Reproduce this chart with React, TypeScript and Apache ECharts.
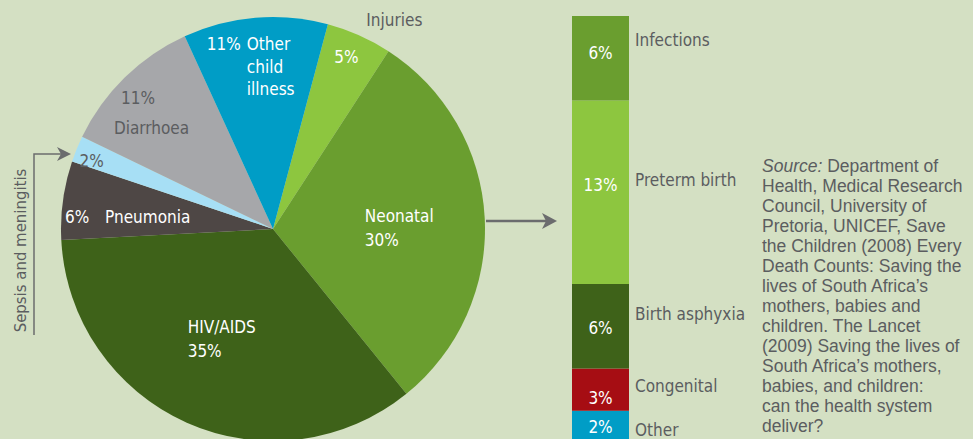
import React, { useEffect, useRef } from "react";
import * as echarts from "echarts";

// ---- data ----
const pieNames = [
  "Injuries",
  "Neonatal",
  "HIV/AIDS",
  "Pneumonia",
  "Sepsis and meningitis",
  "Diarrhoea",
  "Other child illness",
];
const pieValues = [5, 30, 35, 6, 2, 11, 11];

// stacked from bottom to top
const barNames = ["Other", "Congenital", "Birth asphyxia", "Preterm birth", "Infections"];
const barValues = [2, 3, 6, 13, 6];

const sourceLines = [
  "{i|Source:} Department of",
  "Health, Medical Research",
  "Council, University of",
  "Pretoria, UNICEF, Save",
  "the Children (2008) Every",
  "Death Counts: Saving the",
  "lives of South Africa\u2019s",
  "mothers, babies and",
  "children. The Lancet",
  "(2009) Saving the lives of",
  "South Africa\u2019s mothers,",
  "babies, and children:",
  "can the health system",
  "deliver?",
];

// ---- styles ----
const BG = "#d4e0c3";
const GRAY = "#5b5d60";
const ARROW = "#6b6c6e";
const F = "'Liberation Sans Narrow', 'DejaVu Sans Condensed', 'Roboto Condensed', sans-serif";
const FS = 17;
const pieColors = ["#8dc63f", "#6a9e2f", "#3e6219", "#4e4745", "#a7dff5", "#a6a7aa", "#009dc6"];
const barColors = ["#009dc6", "#a60d13", "#3e6219", "#8dc63f", "#6a9e2f"];
const pieLabelShift = [
  [29, -91],
  [19, 5],
  [-5, 10],
  [-37, 2.5],
  [-80.4, -27],
  [-42.8, -38.3],
  [-9.1, -53.4],
];
const pctShift = [2, 8.5, 2, -7, -5];
const nameShift = [5, -4, -12, -12, -18];

function pieFormatter(p: any): string {
  const v = `${p.value}%`;
  const n: string = p.name;
  switch (p.dataIndex) {
    case 0:
      return `{isp| }{gn|${n}}\n{wp|${v}}`;
    case 1:
    case 2:
      return `{wl|${n}}\n{wl|${v}}`;
    case 3:
      return `{w40|${v}}{wn86|${n}}`;
    case 4:
      return `{g|${v}}`;
    case 5:
      return `{dsp| }{dp|${v}}\n{dl|${n}}`;
    case 6: {
      const parts = n.split(" ");
      return `{w40|${v}}{on|${parts[0]}}\n{osp| }{on|${parts[1]}}\n{osp| }{on|${parts[2]}}`;
    }
  }
  return "";
}

export default function App() {
  const ref = useRef<HTMLDivElement>(null);
  useEffect(() => {
    if (!ref.current) return;
    const chart = echarts.init(ref.current, undefined, { renderer: "svg" });
    const base = { fontFamily: F, fontSize: FS };
    const option: any = {
      animation: false,
      backgroundColor: BG,
      grid: { left: 572, top: 16, width: 57, height: 426 },
      xAxis: { type: "category", data: [""], show: false },
      yAxis: { type: "value", min: 0, max: 30, show: false },
      series: [
        {
          type: "pie",
          center: [273, 229],
          radius: 212,
          startAngle: 75,
          clockwise: true,
          silent: true,
          labelLine: { show: false },
          data: pieNames.map((name, i) => ({
            name,
            value: pieValues[i],
            itemStyle: { color: pieColors[i] },
          })),
          label: {
            show: true,
            position: "inside",
            formatter: pieFormatter,
            ...base,
            color: "#fff",
            rich: {
              isp: { ...base, width: 96, lineHeight: 37 },
              gn: { ...base, color: GRAY, lineHeight: 37 },
              wp: { ...base, color: "#fff", lineHeight: 37 },
              wl: { ...base, color: "#fff", width: 72, align: "left", lineHeight: 24 },
              w40: { ...base, color: "#fff", width: 40, align: "left", lineHeight: 22.5 },
              wn86: { ...base, color: "#fff", width: 86, align: "left", lineHeight: 22.5 },
              g: { ...base, color: GRAY },
              dsp: { ...base, width: 7, align: "left", lineHeight: 30 },
              dp: { ...base, color: GRAY, width: 73, align: "left", lineHeight: 30 },
              dl: { ...base, color: GRAY, width: 80, align: "left", lineHeight: 30 },
              osp: { ...base, width: 40, align: "left", lineHeight: 22.5 },
              on: { ...base, color: "#fff", width: 56, align: "left", lineHeight: 22.5 },
            },
          },
          labelLayout: (p: any) => ({
            dx: pieLabelShift[p.dataIndex][0],
            dy: pieLabelShift[p.dataIndex][1],
          }),
        },
        ...barNames.map((name, i) => ({
          type: "bar",
          name,
          stack: "pct",
          barWidth: 57,
          barGap: "-100%",
          silent: true,
          data: [barValues[i]],
          itemStyle: { color: barColors[i] },
          label: {
            show: true,
            position: "inside",
            formatter: (p: any) => `${p.value}%`,
            color: "#fff",
            ...base,
            offset: [0, pctShift[i]],
          },
        })),
        ...barNames.map((name, i) => ({
          type: "bar",
          name,
          stack: "names",
          barWidth: 57,
          barGap: "-100%",
          silent: true,
          data: [barValues[i]],
          itemStyle: { color: "rgba(0,0,0,0)" },
          label: {
            show: true,
            position: "right",
            distance: 6,
            formatter: (p: any) => p.seriesName,
            color: GRAY,
            ...base,
            offset: [0, nameShift[i]],
          },
        })),
      ],
      graphic: [
        {
          type: "polyline",
          silent: true,
          shape: { points: [[34, 335], [34, 154], [63, 154]] },
          style: { stroke: ARROW, lineWidth: 1.5, fill: null },
        },
        {
          type: "polygon",
          silent: true,
          shape: { points: [[71, 154], [57, 147], [61, 154], [57, 161]] },
          style: { fill: ARROW },
        },
        {
          type: "text",
          silent: true,
          x: 20,
          y: 250.5,
          rotation: Math.PI / 2,
          style: {
            text: pieNames[4],
            align: "center",
            verticalAlign: "middle",
            fill: GRAY,
            fontFamily: F,
            fontSize: 16.6,
          },
        },
        {
          type: "line",
          silent: true,
          shape: { x1: 486, y1: 221, x2: 548, y2: 221 },
          style: { stroke: ARROW, lineWidth: 2.5 },
        },
        {
          type: "polygon",
          silent: true,
          shape: { points: [[557, 221], [542, 213], [546, 221], [542, 229]] },
          style: { fill: ARROW },
        },
        {
          type: "text",
          silent: true,
          x: 762,
          y: 156,
          style: {
            text: sourceLines.join("\n"),
            fill: GRAY,
            fontFamily: "'Liberation Sans', Arial, sans-serif",
            fontSize: 17.5,
            lineHeight: 20,
            align: "left",
            verticalAlign: "top",
            rich: {
              i: {
                fontStyle: "italic",
                fill: GRAY,
                fontFamily: "'Liberation Sans', Arial, sans-serif",
                fontSize: 17.5,
                lineHeight: 20,
              },
            },
          },
        },
      ],
    };
    chart.setOption(option);
    return () => chart.dispose();
  }, []);
  return (
    <div
      ref={ref}
      style={{ position: "absolute", left: 0, top: 0, width: 973, height: 439 }}
    />
  );
}
